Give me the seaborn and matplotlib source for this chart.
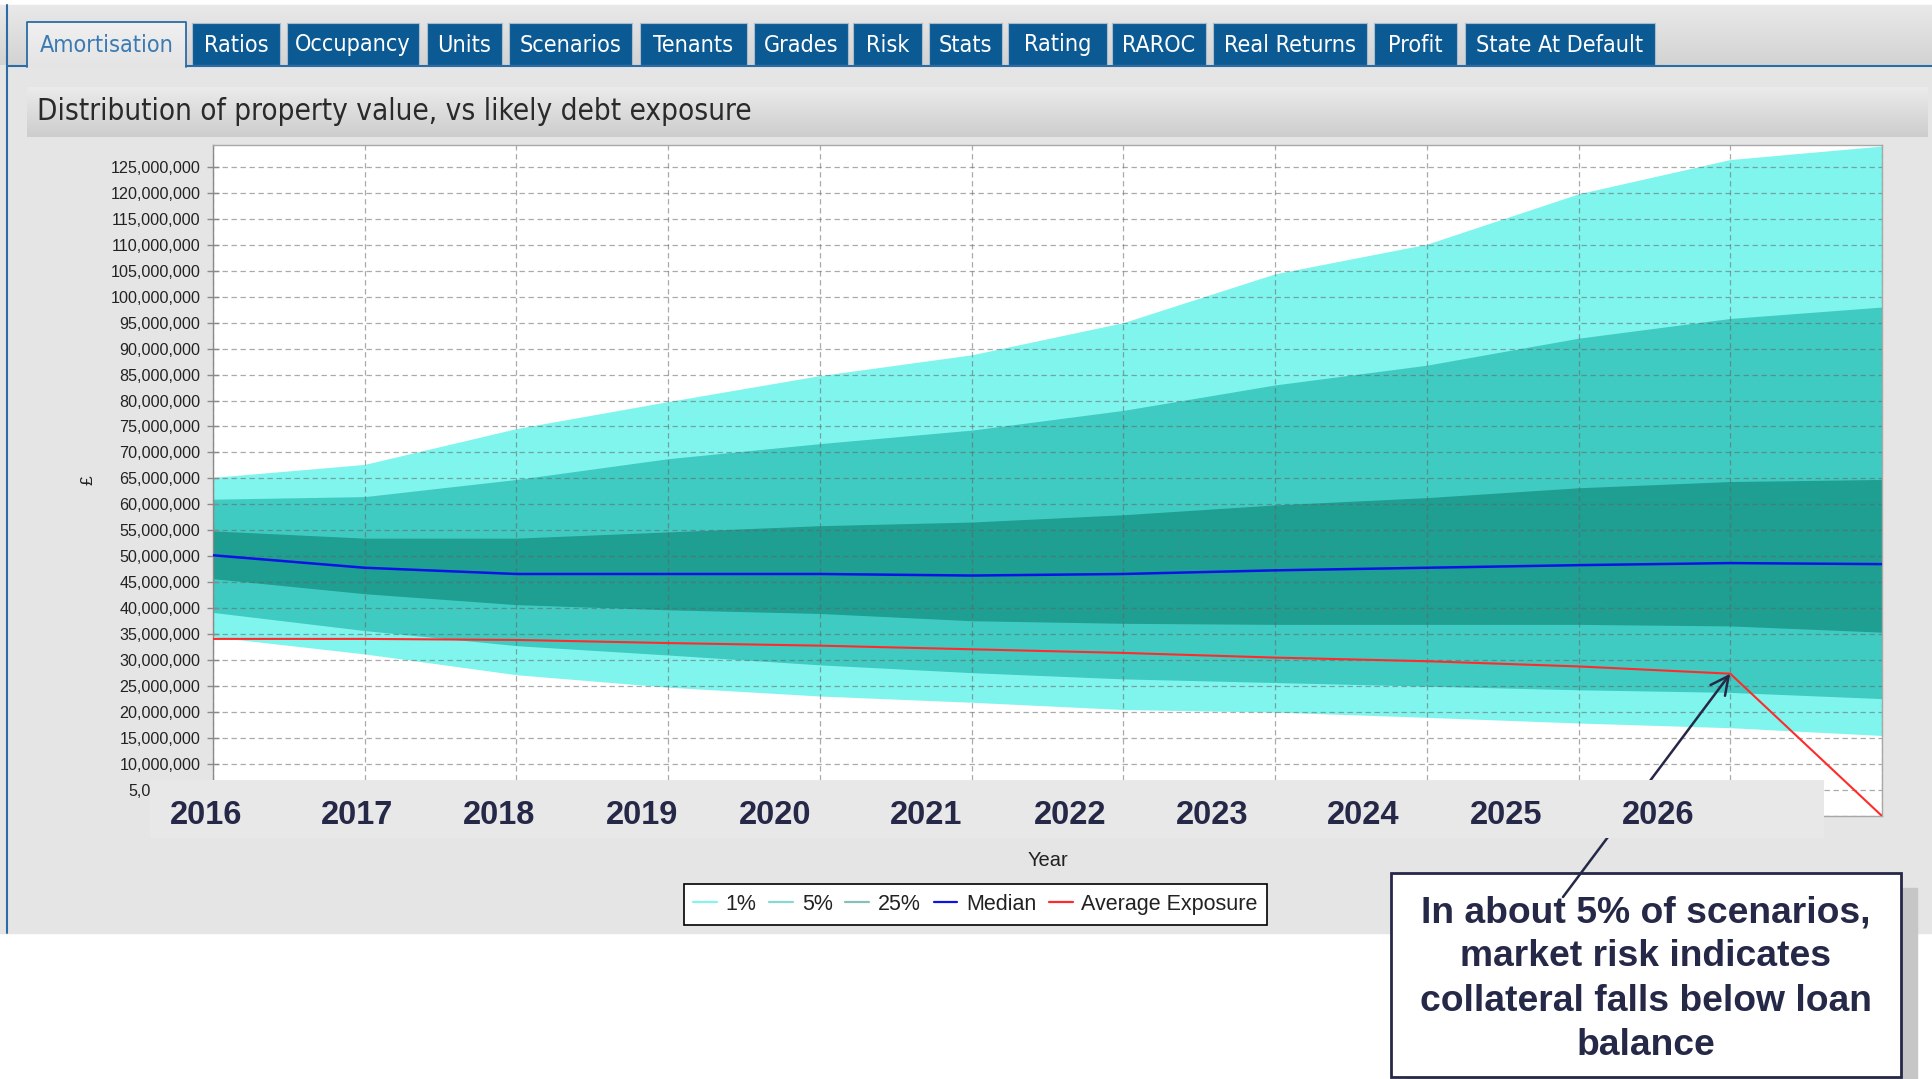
import os
import numpy as np
import pandas as pd
import matplotlib
matplotlib.use("Agg")
import matplotlib.pyplot as plt
import matplotlib.colors as mcolors
import seaborn as sns
from matplotlib import font_manager as fm
from matplotlib.patches import Rectangle
from matplotlib.lines import Line2D
from matplotlib.ticker import FuncFormatter, MultipleLocator

# ---------------- data (values in millions of £) ----------------
years = list(range(2016, 2028))
p01 = [34.5, 31.2, 27.2, 24.8, 23.1, 21.9, 20.5, 20.0, 19.0, 17.9, 17.0, 15.5]
p05 = [39.2, 35.7, 32.8, 31.0, 29.1, 27.6, 26.4, 25.7, 25.0, 24.3, 23.8, 22.6]
p25 = [45.7, 42.8, 40.7, 39.7, 39.0, 37.6, 37.1, 36.9, 36.9, 36.9, 36.6, 35.4]
median = [50.2, 47.8, 46.6, 46.6, 46.6, 46.3, 46.6, 47.3, 47.8, 48.3, 48.7, 48.5]
p75 = [54.9, 53.5, 53.5, 54.7, 55.9, 56.6, 58.0, 59.9, 61.3, 63.2, 64.4, 64.8]
p95 = [61.0, 61.5, 64.8, 68.8, 71.7, 74.3, 78.1, 83.0, 86.8, 92.0, 95.8, 98.0]
p99 = [65.2, 67.7, 74.6, 79.8, 84.8, 88.8, 95.0, 104.4, 110.1, 119.8, 126.4, 129.0]
exposure = [34.1, 34.1, 33.9, 33.3, 32.8, 32.1, 31.4, 30.5, 29.8, 28.8, 27.4, 0.0]

legend_labels = ["1%", "5%", "25%", "Median", "Average Exposure"]
tab_names = ["Amortisation", "Ratios", "Occupancy", "Units", "Scenarios", "Tenants",
             "Grades", "Risk", "Stats", "Rating", "RAROC", "Real Returns", "Profit",
             "State At Default"]
panel_title = "Distribution of property value, vs likely debt exposure"
year_banner = ["2016", "2017", "2018", "2019", "2020", "2021", "2022", "2023",
               "2024", "2025", "2026"]
callout_lines = ["In about 5% of scenarios,", "market risk indicates",
                 "collateral falls below loan", "balance"]

df = pd.DataFrame({"year": years,
                   "median": np.array(median) * 1e6,
                   "exposure": np.array(exposure) * 1e6})

# ---------------- styling ----------------
sns.set_theme(style="white")
plt.rcParams["font.family"] = ["Liberation Sans", "DejaVu Sans"]

C_LIGHT, C_MID, C_DARK = "#80f5ee", "#3fcbc1", "#1f9e92"
C_MEDIAN, C_EXPOSURE = "#0a14e6", "#ff2b2b"
NAVY = "#262848"
TAB_BLUE = "#0c5a94"
LINE_BLUE = "#2c6ca4"


def find_font(patterns, exclude=("Bold", "Oblique", "Italic")):
    for pat in patterns:
        for f in fm.fontManager.ttflist:
            base = os.path.basename(f.fname)
            if pat in base and not any(e in base for e in exclude):
                return fm.FontProperties(fname=f.fname)
    return fm.FontProperties(family="DejaVu Sans")


ui_font = find_font(["DejaVuSansCondensed", "LiberationSansNarrow-Regular",
                     "RobotoCondensed-Regular"])

W, H = 1933, 1079
fig = plt.figure(figsize=(W / 100, H / 100), dpi=100, facecolor="white")
renderer = fig.canvas.get_renderer()


def fit_width(txt, target_px):
    w = txt.get_window_extent(renderer=renderer).width
    txt.set_fontsize(txt.get_fontsize() * target_px / w)


# ---------------- application chrome (pixel units) ----------------
bg = fig.add_axes([0, 0, 1, 1], zorder=-10)
bg.set_axis_off()


def vgrad(x0, x1, y0, y1, top, bottom, z=1):
    c0 = np.array(mcolors.to_rgb(top))
    c1 = np.array(mcolors.to_rgb(bottom))
    t = np.linspace(0, 1, 64)[:, None]
    img = (c0 * (1 - t) + c1 * t)[:, None, :]
    bg.imshow(img, extent=(x0, x1, y1, y0), aspect="auto",
              interpolation="bilinear", zorder=z)


# window body
bg.add_patch(Rectangle((0, 5), W, 928, color="#e5e5e5", zorder=0))
vgrad(0, W, 5, 65, "#e9e9e9", "#d3d3d3")
bg.plot([7, 7], [5, 933], color=LINE_BLUE, lw=1.5, zorder=3)

# tabs
tab_spans = [(27, 186), (192, 280), (287, 419), (427, 502), (509, 632), (640, 747),
             (754, 848), (853, 922), (929, 1002), (1008, 1107), (1112, 1206),
             (1213, 1367), (1374, 1457), (1465, 1655)]
bg.plot([7, 27], [65.5, 65.5], color=LINE_BLUE, lw=1.5, zorder=3)
bg.plot([186, W], [65.5, 65.5], color=LINE_BLUE, lw=1.5, zorder=3)
tab_texts = []
for i, (name, (x0, x1)) in enumerate(zip(tab_names, tab_spans)):
    if i == 0:
        vgrad(x0, x1, 22, 67, "#f0f0f0", "#e4e4e4", z=2)
        bg.plot([x0, x0, x1, x1], [67, 22, 22, 67], color=LINE_BLUE, lw=1.3, zorder=3)
        color = "#3b7ab2"
    else:
        bg.add_patch(Rectangle((x0, 23), x1 - x0, 42, facecolor=TAB_BLUE,
                               edgecolor="#a9bccd", lw=0.8, zorder=2))
        color = "white"
    t = bg.text((x0 + x1) / 2, 45, name, color=color, ha="center", va="center",
                fontproperties=ui_font, fontsize=15, zorder=4)
    tab_texts.append(t)
fit_width(tab_texts[-1], 168)
for t in tab_texts[:-1]:
    t.set_fontsize(tab_texts[-1].get_fontsize())

# panel title bar
vgrad(27, 1928, 87, 137, "#ebebeb", "#cdcdcd")
title = bg.text(37, 112, panel_title, color="#2a2a2a", ha="left", va="center",
                fontproperties=ui_font, fontsize=18, zorder=4)
fit_width(title, 714)

# callout box with drop shadow
bg.add_patch(Rectangle((1407, 888), 510, 220, color="#c6c6c6", zorder=5))
bg.add_patch(Rectangle((1391, 873), 510, 204, facecolor="white", edgecolor=NAVY,
                       lw=2.0, zorder=6))
for line, base in zip(callout_lines, [922, 966.5, 1010.8, 1055]):
    bg.text(1646, base, line, ha="center", va="baseline", color=NAVY,
            fontsize=26.8, fontweight="bold", zorder=7)

bg.set_xlim(0, W)
bg.set_ylim(H, 0)

# ---------------- main chart ----------------
ax = fig.add_axes([213 / W, 1 - 816 / H, (1882 - 213) / W, (816 - 145) / H])
ax.set_facecolor("white")

arr = np.array
ax.fill_between(years, arr(p01) * 1e6, arr(p99) * 1e6, color=C_LIGHT, lw=0, zorder=1.0)
ax.fill_between(years, arr(p05) * 1e6, arr(p95) * 1e6, color=C_MID, lw=0, zorder=1.1)
ax.fill_between(years, arr(p25) * 1e6, arr(p75) * 1e6, color=C_DARK, lw=0, zorder=1.2)

sns.lineplot(data=df, x="year", y="median", color=C_MEDIAN, lw=1.8, ax=ax, zorder=3)
sns.lineplot(data=df, x="year", y="exposure", color=C_EXPOSURE, lw=1.5, ax=ax, zorder=3)

ax.set_xlim(years[0], years[-1])
ax.set_ylim(0, 129.2e6)
ax.set_xticks(years)
ax.set_xticklabels([])
ax.yaxis.set_major_locator(MultipleLocator(5e6))
ax.yaxis.set_major_formatter(FuncFormatter(lambda v, p: f"{v:,.0f}" if v > 0 else ""))
ax.tick_params(axis="y", direction="inout", length=8, width=1, color="#8a8a8a",
               labelsize=11.6, labelcolor="#222222", pad=5, left=True)
ax.tick_params(axis="x", length=0)

ax.set_axisbelow("line")
ax.grid(True, color="#646464", alpha=0.55, linestyle=(0, (4.3, 2.9)), linewidth=0.9)
for side, sp in ax.spines.items():
    sp.set_visible(True)
    sp.set_color("#8a8a8a" if side == "left" else "#a8a8a8")
    sp.set_linewidth(1.0)

ax.set_ylabel("£", fontsize=12.5, color="#222222")
ax.yaxis.set_label_coords(-0.0705, 0.5)
ax.set_xlabel("Year", fontsize=14.5, color="#222222")
ax.xaxis.set_label_coords(0.5, -0.052)

handles = [Line2D([], [], color=c, lw=1.6) for c in
           ["#86f4ee", "#86d8d0", "#88c0b9", C_MEDIAN, C_EXPOSURE]]
leg = ax.legend(handles, legend_labels, loc="center",
                bbox_to_anchor=((975.5 - 213) / 1669, (816 - 904.5) / 671),
                ncol=5, frameon=True, fancybox=False, shadow=False,
                edgecolor="black", facecolor="white", framealpha=1,
                fontsize=15.5, handlelength=1.1, handletextpad=0.4,
                columnspacing=0.6, borderpad=0.45, borderaxespad=0)
leg.get_frame().set_linewidth(1.2)
for t in leg.get_texts():
    t.set_color("#222222")

ax.annotate("", xy=(years[10], exposure[10] * 1e6), xycoords="data",
            xytext=(1563, H - 897), textcoords="figure pixels",
            arrowprops=dict(arrowstyle="->,head_length=0.5,head_width=0.25",
                            color=NAVY, lw=1.8, shrinkA=0, shrinkB=0,
                            mutation_scale=26),
            annotation_clip=False)

# ---------------- year banner laid over the axis foot ----------------
band = fig.add_axes([150 / W, 1 - 838 / H, (1824 - 150) / W, 58 / H], zorder=5)
band.set_facecolor("#e8e8e8")
band.set_xlim(150, 1824)
band.set_ylim(838, 780)
band.set_xticks([])
band.set_yticks([])
for sp in band.spines.values():
    sp.set_visible(False)
banner_x = [206, 357.5, 499, 642, 775.5, 926, 1070, 1212, 1363.5, 1506.5, 1658]
for lab, xc in zip(year_banner, banner_x):
    band.text(xc, 823.5, lab, ha="center", va="baseline", color=NAVY,
              fontsize=23.5, fontweight="bold")

fig.savefig("out.png", dpi=100, facecolor="white")
